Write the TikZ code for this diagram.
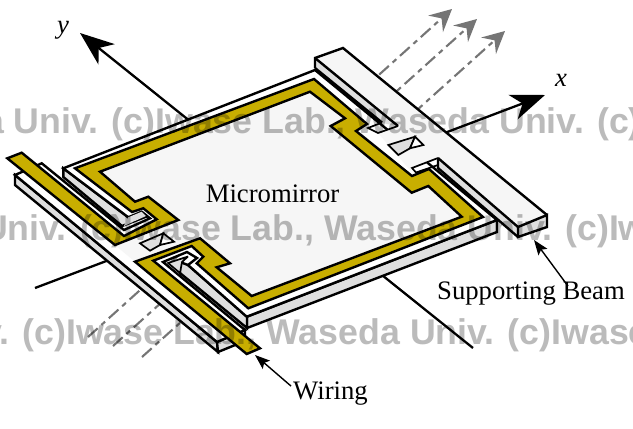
\documentclass[tikz,border=0pt]{standalone}
\usepackage{fontspec}
\setmainfont{Liberation Serif}
\newfontfamily\wmfont[BoldFont=Liberation Sans Bold]{Liberation Sans}
\usetikzlibrary{arrows.meta,calc}
\definecolor{gold}{HTML}{C8AE00}
\definecolor{wall}{HTML}{DFDFDF}
\definecolor{plate}{HTML}{F6F6F6}
\definecolor{wmgray}{HTML}{BBBBBB}
\definecolor{beamarrow}{HTML}{757575}
\tikzset{
  edge/.style={draw=black,line width=2.4pt,line join=miter,miter limit=3},
  fine/.style={draw=black,line width=1.7pt,line join=miter,miter limit=3},
  axisline/.style={line width=2.3pt,-{Stealth[length=34pt,width=26pt,inset=10pt]}},
  beamline/.style={draw=beamarrow,line width=2.1pt,dash pattern=on 13pt off 5pt on 5pt off 5pt,
     -{Stealth[length=22pt,width=22pt,inset=8pt,fill=beamarrow]}},
  lab/.style={font=\fontsize{26.7}{30}\selectfont,inner sep=0pt},
  pointer/.style={line width=1.4pt,-{Stealth[length=15pt,width=11pt,inset=3pt]}},
  wmark/.style={font=\wmfont\bfseries\fontsize{35.7}{40}\selectfont,text=wmgray,anchor=base west,inner sep=0pt,blend mode=multiply},
}
\begin{document}
\begin{tikzpicture}[x=1pt,y=-1pt]
\useasboundingbox (0,0) rectangle (633,429);
\fill[white] (0,0) rectangle (633,429);
% beams of light
\draw[beamline] (88,337) -- (452,9);
\draw[beamline] (113,346) -- (477,19);
\draw[beamline] (142,357) -- (505,31);
% axes
\draw[axisline] (473,348) -- (80,33);
\draw[axisline] (35,288) -- (545,95);
% left beam wall and end
\draw[edge,fill=wall] (15,175) -- (15,185) -- (218,352) -- (217,342) -- cycle;
\draw[edge,fill=wall] (217,342) -- (218,352) -- (245,341) -- (245,330) -- cycle;
% mirror walls
\draw[edge,fill=wall] (497,220) -- (497,232) -- (247,328) -- (247,316.7) -- cycle;
\draw[edge,fill=wall] (180,262) -- (180,273) -- (247,328) -- (247,316.7) -- (188,265) -- cycle;
\draw[edge,fill=wall] (63.3,168.3) -- (63.3,177) -- (122,226) -- (148,216) -- (141.7,211.7) -- (128.3,217.3) -- cycle;
% one top surface: left beam, springs, plate
\draw[edge,fill=white] (15,175) -- (41.7,163.3) -- (124,230) -- (150,218.3) -- (141.7,211.7)
  -- (128.3,217.3) -- (63.3,168.3) -- (315,70) -- (497,220) -- (246.7,316.7)
  -- (188,265) -- (197,258) -- (187,252) -- (163,262) -- (245,330) -- (217,342) -- cycle;
% slots showing the wall
\fill[wall] (124,226) -- (146,216) -- (141.7,211.7) -- (128.3,217.3) -- cycle;
\draw[fill=wall,fine] (168,263) -- (188,256.5) -- (182,262) -- (180,273) -- cycle;
% light plate
\fill[plate] (100,171.7) -- (135,201.7) -- (148.3,196.7) -- (178.3,220) -- (115,245) -- (135,261.7)
  -- (200,238.3) -- (230,263.3) -- (216.7,267.3) -- (251.7,296) -- (461.7,216.7)
  -- (428.3,186) -- (411.7,192.7) -- (330.7,126) -- (345,118.3) -- (310,91.7) -- cycle;
% gold layer
\draw[edge,fill=gold] (7.3,158.3) -- (21.7,152.7) -- (124,236) -- (156.7,219.3) -- (143.3,208.3)
  -- (132,212) -- (75,168.3) -- (314,79) -- (367,124) -- (356,131) -- (412,176) -- (429,169) -- (483,217)
  -- (248.3,308.3) -- (196.7,263.3) -- (203.3,256.7) -- (191.7,246) -- (153.3,260.7)
  -- (260,348.3) -- (246.7,354) -- (135,261.7) -- (200,238.3) -- (230,263.3) -- (216.7,267.3)
  -- (251.7,296) -- (461.7,216.7) -- (428.3,186) -- (411.7,192.7) -- (330.7,126) -- (345,118.3)
  -- (310,91.7) -- (100,171.7) -- (135,201.7) -- (148.3,196.7) -- (178.3,220) -- (115,245) -- cycle;
% right beam
\fill[wall] (315,58) -- (315,68) -- (382,123) -- (398,126) -- cycle;
\fill[wall] (438,158) -- (438,168) -- (518,237) -- (518,227) -- cycle;
\fill[plate] (315,58) -- (343,48) -- (547,215) -- (518,227) -- (438,158) -- (418,166) -- (398,126) -- cycle;
\fill[plate] (398,126) -- (378,133) -- (410,170) -- (438,158) -- cycle;
\draw[edge,fill=wall] (518,227) -- (518,237) -- (547,227) -- (547,215) -- cycle;
\draw[edge] (315,68) -- (315,58) -- (343,48) -- (547,215);
\draw[edge] (315,58) -- (398,126);
\draw[fine] (398,126) -- (378,133) -- (368,128) -- (382,122.5);
\draw[edge] (315,68) -- (382,122.5);
\draw[edge] (518,227) -- (438,158);
\draw[fine] (438,158) -- (412,168) -- (416,172.5) -- (438,165);
\draw[edge] (438,158) -- (438,168) -- (518,237);
% holes
\draw[fine,fill=wall] (388.3,145) -- (415,136.7) -- (410,148.3) -- (398.3,155) -- cycle;
\draw[fine,fill=white] (415,136.7) -- (423.3,145) -- (410,148.3) -- cycle;
\draw[fine,fill=wall] (140,243.3) -- (163.3,233.3) -- (160,245) -- (150,250.7) -- cycle;
\draw[fine,fill=white] (163.3,233.3) -- (174,241.7) -- (160,245) -- cycle;
% labels
\node[lab] (mm) at (272.5,194) {Micromirror};
\node[lab,anchor=base west] (sb) at (437,299) {Supporting Beam};
\node[lab,anchor=base west] (wr) at (293,399) {Wiring};
\node[lab] (ya) at (63,30) {\itshape y};
\node[lab] (xa) at (561,80) {\itshape x};
\coordinate (sbtip) at (534,240);
\coordinate (wrtip) at (255,355);
\draw[pointer] ([xshift=37pt,yshift=-5pt]sb.north) -- (sbtip);
\draw[pointer] ([yshift=7pt,xshift=-2pt]wr.west) -- (wrtip);
% watermark
\begin{scope}
\clip (0,0) rectangle (633,429);
\node[wmark] (m1) at (-16,133) {a Univ. (c)Iwase Lab., Waseda Univ. (c)};
\node[wmark] (m2) at (-18,240) {Univ. (c)Iwase Lab., Waseda Univ. (c)Iw};
\node[wmark] (m3) at (-18,344) {v. (c)Iwase Lab., Waseda Univ. (c)Iwase};
\end{scope}
\end{tikzpicture}
\end{document}
